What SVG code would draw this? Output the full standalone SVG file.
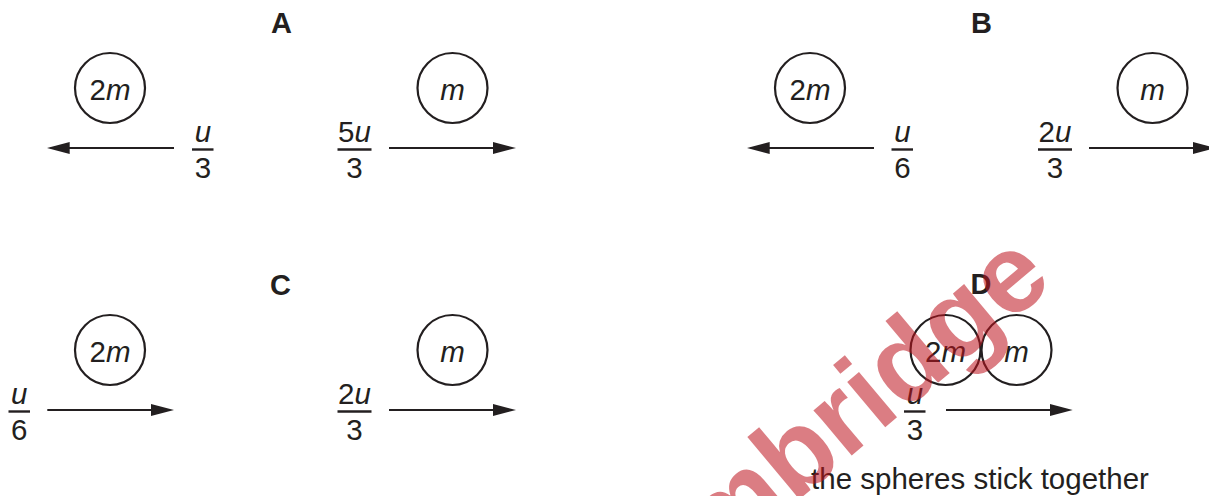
<svg xmlns="http://www.w3.org/2000/svg" width="1209" height="496" viewBox="0 0 1209 496">
<defs>
<style>
.ball{fill:none;stroke:#231f20;stroke-width:2.2}
.lbl{font-family:"Liberation Sans",Arial,sans-serif;font-size:29.5px;fill:#231f20;text-anchor:middle}
.it{font-style:italic}
.hd{font-family:"Liberation Sans",Arial,sans-serif;font-size:29px;font-weight:bold;fill:#231f20;text-anchor:middle}
.bar{stroke:#231f20;stroke-width:2.4}
.arr{stroke:#231f20;stroke-width:2;fill:none;marker-end:url(#ah)}
.cap{font-family:"Liberation Sans",Arial,sans-serif;font-size:29.5px;fill:#231f20;text-anchor:middle}
.wm{font-family:"Liberation Sans",Arial,sans-serif;font-size:112px;font-weight:bold;fill:#be141e;opacity:0.55}
</style>
<marker id="ah" viewBox="0 0 23 12" refX="19" refY="6" markerWidth="23" markerHeight="12" markerUnits="userSpaceOnUse" orient="auto">
<path d="M0,0 L23,6 L0,12 Z" fill="#231f20"/>
</marker>
</defs>
<rect width="1209" height="496" fill="#ffffff"/>

<g id="panelA">
<text class="hd" x="281.5" y="33">A</text>
<g id="A-ball-2m"><circle class="ball" cx="110" cy="88" r="35"/><text class="lbl" x="110" y="99.5">2<tspan class="it">m</tspan></text></g>
<g id="A-ball-m"><circle class="ball" cx="452.5" cy="88" r="35"/><text class="lbl it" x="452.5" y="99.5">m</text></g>
<g id="A-v1"><text class="lbl it" x="203" y="141.5">u</text><line class="bar" x1="192" y1="149.5" x2="213.5" y2="149.5"/><text class="lbl" x="203" y="177.5">3</text></g>
<g id="A-v2"><text class="lbl" x="354.5" y="141.5">5<tspan class="it">u</tspan></text><line class="bar" x1="337.5" y1="149.5" x2="371.5" y2="149.5"/><text class="lbl" x="354.5" y="177.5">3</text></g>
</g>

<g id="panelB">
<text class="hd" x="981.5" y="33">B</text>
<g id="B-ball-2m"><circle class="ball" cx="810" cy="88" r="35"/><text class="lbl" x="810" y="99.5">2<tspan class="it">m</tspan></text></g>
<g id="B-ball-m"><circle class="ball" cx="1152.5" cy="88" r="35"/><text class="lbl it" x="1152.5" y="99.5">m</text></g>
<g id="B-v1"><text class="lbl it" x="902.5" y="141.5">u</text><line class="bar" x1="891.5" y1="149.5" x2="913" y2="149.5"/><text class="lbl" x="902.5" y="177.5">6</text></g>
<g id="B-v2"><text class="lbl" x="1055" y="141.5">2<tspan class="it">u</tspan></text><line class="bar" x1="1038" y1="149.5" x2="1072" y2="149.5"/><text class="lbl" x="1055" y="177.5">3</text></g>
</g>

<g id="panelC">
<text class="hd" x="280.5" y="295">C</text>
<g id="C-ball-2m"><circle class="ball" cx="110" cy="350" r="35"/><text class="lbl" x="110" y="361.5">2<tspan class="it">m</tspan></text></g>
<g id="C-ball-m"><circle class="ball" cx="452.5" cy="350" r="35"/><text class="lbl it" x="452.5" y="361.5">m</text></g>
<g id="C-v1"><text class="lbl it" x="19.3" y="404">u</text><line class="bar" x1="8.5" y1="411.5" x2="30" y2="411.5"/><text class="lbl" x="19.3" y="440">6</text></g>
<g id="C-v2"><text class="lbl" x="354.5" y="404">2<tspan class="it">u</tspan></text><line class="bar" x1="337.5" y1="411.5" x2="371.5" y2="411.5"/><text class="lbl" x="354.5" y="440">3</text></g>
</g>

<g id="panelD">
<text class="hd" x="981" y="294">D</text>
<g id="D-ball-2m"><circle class="ball" cx="945.5" cy="350" r="35"/><text class="lbl" x="945.5" y="361.5">2<tspan class="it">m</tspan></text></g>
<g id="D-ball-m"><circle class="ball" cx="1016.5" cy="350" r="35"/><text class="lbl it" x="1016.5" y="361.5">m</text></g>
<g id="D-v1"><text class="lbl it" x="915" y="404">u</text><line class="bar" x1="904" y1="411.5" x2="925.5" y2="411.5"/><text class="lbl" x="915" y="440">3</text></g>
<text class="cap" x="980" y="489">the spheres stick together</text>
</g>

<g id="connectors">
<line class="arr" x1="174" y1="148" x2="50.7" y2="148"/>
<line class="arr" x1="389" y1="148" x2="512" y2="148"/>
<line class="arr" x1="874" y1="148" x2="750.7" y2="148"/>
<line class="arr" x1="1089" y1="148" x2="1212" y2="148"/>
<line class="arr" x1="47.3" y1="410" x2="170" y2="410"/>
<line class="arr" x1="389" y1="410" x2="512" y2="410"/>
<line class="arr" x1="946" y1="410" x2="1068.7" y2="410"/>
</g>

<text class="wm" transform="translate(607.5,660.4) rotate(-40)">Cambridge</text>
</svg>
